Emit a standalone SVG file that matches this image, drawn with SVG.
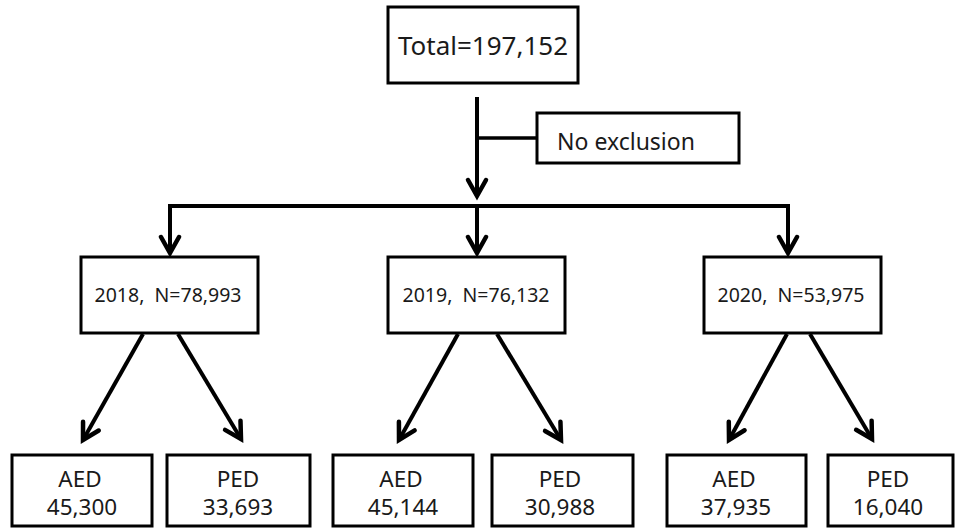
<svg xmlns="http://www.w3.org/2000/svg" width="956" height="528" viewBox="0 0 956 528">
<style>
.box{fill:#fff;stroke:#000;stroke-width:3}
.t{font-family:"Noto Sans","Open Sans","DejaVu Sans",sans-serif;fill:#1a1a1a;text-anchor:middle}
.c{fill:none;stroke:#000;stroke-width:4}
</style>
<defs>
<marker id="ah" markerUnits="userSpaceOnUse" viewBox="-20 -12 24 24" refX="0" refY="0" markerWidth="24" markerHeight="24" orient="auto" overflow="visible">
<path d="M-16,-9 L0,0 L-16,9" fill="none" stroke="#000" stroke-width="4.5" stroke-linecap="round" stroke-linejoin="miter"/>
</marker>
</defs>
<g id="connectors">
<line class="c" x1="477" y1="97" x2="477" y2="196" marker-end="url(#ah)"/>
<line class="c" x1="477" y1="138" x2="537" y2="138" style="stroke-width:3.5"/>
<polyline class="c" points="170,253 170,206 788,206 788,253" marker-end="url(#ah)"/>
<line class="c" x1="170" y1="206" x2="170" y2="253" marker-end="url(#ah)"/>
<line class="c" x1="477" y1="206" x2="477" y2="253" marker-end="url(#ah)"/>
<line class="c" x1="143" y1="334" x2="83" y2="440" marker-end="url(#ah)"/>
<line class="c" x1="178" y1="334" x2="241" y2="439" marker-end="url(#ah)"/>
<line class="c" x1="458" y1="334" x2="399" y2="440" marker-end="url(#ah)"/>
<line class="c" x1="497" y1="334" x2="561" y2="440" marker-end="url(#ah)"/>
<line class="c" x1="787" y1="334" x2="729" y2="440" marker-end="url(#ah)"/>
<line class="c" x1="810" y1="334" x2="872" y2="439" marker-end="url(#ah)"/>
</g>
<g id="total">
<rect class="box" x="388" y="7" width="190" height="76"/>
<text class="t" x="483" y="55" font-size="26">Total=197,152</text>
</g>
<g id="exclusion">
<rect class="box" x="537" y="113" width="202" height="50"/>
<text class="t" x="626" y="150" font-size="23">No exclusion</text>
</g>
<g id="y2018">
<rect class="box" x="81" y="257" width="177" height="76"/>
<text class="t" x="168" y="302" font-size="19.5" xml:space="preserve">2018,  N=78,993</text>
</g>
<g id="y2019">
<rect class="box" x="388" y="257" width="177" height="76"/>
<text class="t" x="476" y="302" font-size="19.5" xml:space="preserve">2019,  N=76,132</text>
</g>
<g id="y2020">
<rect class="box" x="704" y="257" width="177" height="76"/>
<text class="t" x="791" y="302" font-size="19.5" xml:space="preserve">2020,  N=53,975</text>
</g>
<g id="aed2018">
<rect class="box" x="12" y="455" width="140" height="71"/>
<text class="t" x="80" y="487" font-size="22.5">AED</text>
<text class="t" x="82" y="515" font-size="22.5">45,300</text>
</g>
<g id="ped2018">
<rect class="box" x="167" y="455" width="143" height="71"/>
<text class="t" x="238" y="487" font-size="22.5">PED</text>
<text class="t" x="238" y="515" font-size="22.5">33,693</text>
</g>
<g id="aed2019">
<rect class="box" x="333" y="455" width="140" height="71"/>
<text class="t" x="401" y="487" font-size="22.5">AED</text>
<text class="t" x="403" y="515" font-size="22.5">45,144</text>
</g>
<g id="ped2019">
<rect class="box" x="492" y="455" width="141" height="71"/>
<text class="t" x="560" y="487" font-size="22.5">PED</text>
<text class="t" x="560" y="515" font-size="22.5">30,988</text>
</g>
<g id="aed2020">
<rect class="box" x="667" y="455" width="139" height="71"/>
<text class="t" x="734" y="487" font-size="22.5">AED</text>
<text class="t" x="736" y="515" font-size="22.5">37,935</text>
</g>
<g id="ped2020">
<rect class="box" x="828" y="455" width="125" height="71"/>
<text class="t" x="888" y="487" font-size="22.5">PED</text>
<text class="t" x="888" y="515" font-size="22.5">16,040</text>
</g>
</svg>
